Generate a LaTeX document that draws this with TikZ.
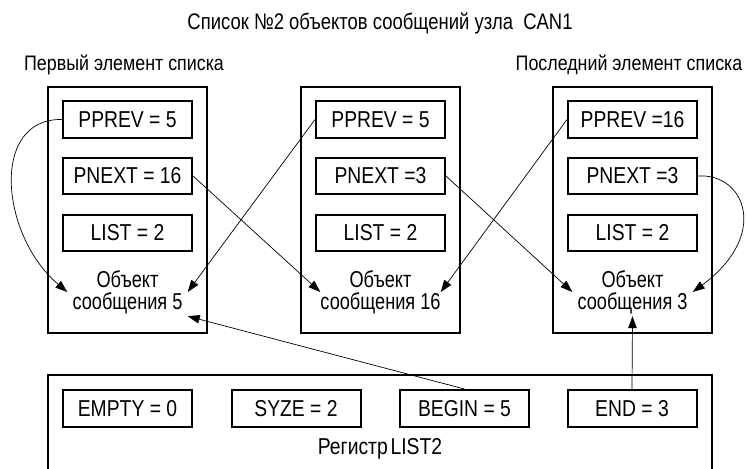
\documentclass[tikz,border=0pt]{standalone}
\usepackage{fontspec}
\setmainfont{Liberation Sans}[FakeStretch=0.84]
\newfontfamily\titlefont{Liberation Sans}[FakeStretch=0.82]
\newfontfamily\labelfont{Liberation Sans}[FakeStretch=0.85]
\newfontfamily\objfont{Liberation Sans}[FakeStretch=0.79]
\usetikzlibrary{arrows.meta}
\begin{document}
\begin{tikzpicture}[x=1pt,y=-1pt,
  outer/.style={draw,line width=2pt,minimum width=159pt,minimum height=246pt,inner sep=0pt},
  field/.style={draw,line width=2pt,minimum width=129pt,minimum height=36pt,inner sep=0pt,font=\fontsize{23}{25}\selectfont},
  lbl/.style={inner sep=0pt,font=\labelfont\fontsize{21}{23}\selectfont},
  ttl/.style={inner sep=0pt,font=\titlefont\fontsize{22.5}{25}\selectfont},
  obj/.style={inner sep=0pt,minimum width=120pt,minimum height=48pt,align=center,font=\objfont\fontsize{23}{22}\selectfont},
  link/.style={line width=0.7pt,-{Triangle[length=12pt,width=8.5pt]}}]
\useasboundingbox (0,0) rectangle (746,468);

\node[ttl] (title) at (380,23) {Список №2 объектов сообщений узла\ \ CAN1};
\node[lbl] (first) at (124,65) {Первый элемент списка};
\node[lbl] (last) at (629,65) {Последний элемент списка};

% outer boxes
\node[outer] (o1) at (127.5,210) {};
\node[outer] (o2) at (380.5,210) {};
\node[outer] (o3) at (632.5,210) {};

% fields
\node[field] (pp1) at (127.5,119.5) {PPREV = 5};
\node[field] (pn1) at (127.5,176) {PNEXT = 16};
\node[field] (ls1) at (127.5,233) {LIST = 2};
\node[field] (pp2) at (380.5,119.5) {PPREV = 5};
\node[field] (pn2) at (380.5,176) {PNEXT =3};
\node[field] (ls2) at (380.5,233) {LIST = 2};
\node[field] (pp3) at (632.5,119.5) {PPREV =16};
\node[field] (pn3) at (632.5,176) {PNEXT =3};
\node[field] (ls3) at (632.5,233) {LIST = 2};

\node[obj] (t1) at (127.5,292) {Объект\\сообщения 5};
\node[obj] (t2) at (380.5,292) {Объект\\сообщения 16};
\node[obj] (t3) at (632.5,292) {Объект\\сообщения 3};

% register
\draw[line width=2pt] (48,469) -- (48,375) -- (712,375) -- (712,469);
\node[field,minimum height=37pt] (empty) at (127.5,408.5) {EMPTY = 0};
\node[field,minimum height=37pt] (syze) at (296,408.5) {SYZE = 2};
\node[field,minimum height=37pt] (begin) at (464.5,408.5) {BEGIN = 5};
\node[field,minimum height=37pt] (end) at (632,408.5) {END = 3};
\node[inner sep=0pt,font=\fontsize{23}{25}\selectfont] (reg) at (380,449) {Регистр\hspace{0.12em}LIST2};

% links
\draw[link] (pp1.west) .. controls (-10,118) and (0,235) .. (t1.west);
\draw[link] (pp2.west) -- (t1.east);
\draw[link] (pn1.east) -- (t2.west);
\draw[link] (pp3.west) -- (t2.east);
\draw[link] (pn2.east) -- (t3.west);
\draw[link] (pn3.east) .. controls (745,173) and (770,235) .. (t3.east);
\draw[link] (begin.north) -- (t1.south east);
\draw[link] (end.north) -- (t3.south);
\end{tikzpicture}
\end{document}
